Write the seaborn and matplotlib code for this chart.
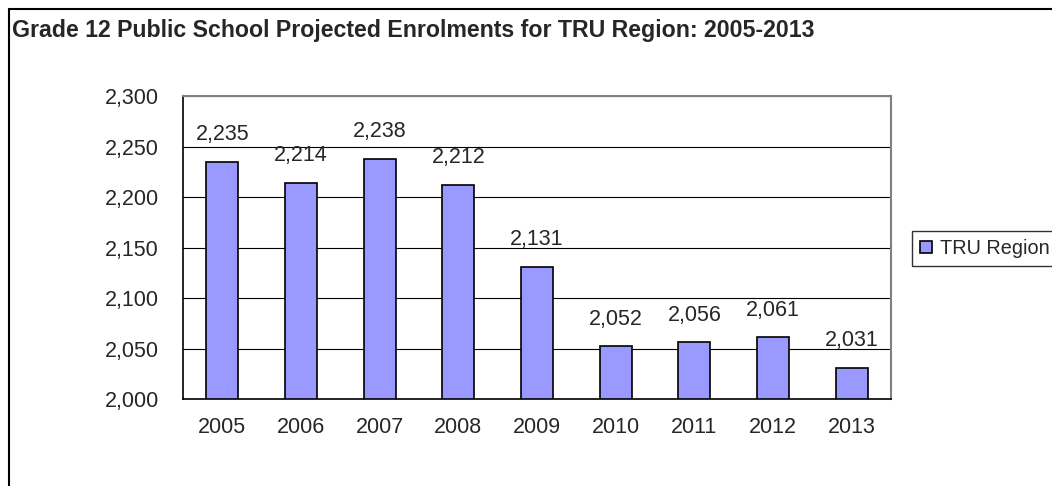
import matplotlib
matplotlib.use("Agg")
import matplotlib.pyplot as plt
import matplotlib.ticker as mticker
from matplotlib.lines import Line2D
import seaborn as sns
import pandas as pd

# data
years = ["2005", "2006", "2007", "2008", "2009", "2010", "2011", "2012", "2013"]
enrolments = [2235, 2214, 2238, 2212, 2131, 2052, 2056, 2061, 2031]
series_name = "TRU Region"

df = pd.DataFrame({"Year": years, "Enrolment": enrolments})

sns.set_style("white")
plt.rcParams["font.family"] = ["Liberation Sans", "DejaVu Sans"]

fig = plt.figure(figsize=(10.52, 4.86), dpi=100)
ax = fig.add_axes([183 / 1052, 1 - 399 / 486, (891 - 183) / 1052, (399 - 96) / 486])

sns.barplot(data=df, x="Year", y="Enrolment", color="#9999FF", saturation=1,
            edgecolor="black", linewidth=1.2, width=0.41, label=series_name, ax=ax)

ax.set_ylim(2000, 2300)
ax.set_yticks(range(2000, 2301, 50))
ax.yaxis.set_major_formatter(mticker.FuncFormatter(lambda v, p: f"{v:,.0f}"))
ax.yaxis.grid(True, color="black", linewidth=0.8)
ax.set_axisbelow(True)
ax.set_xlabel("")
ax.set_ylabel("")

# category separators as ticks
ax.set_xlim(-0.5, len(years) - 0.5)
ax.set_xticks([i - 0.5 for i in range(len(years) + 1)], minor=True)
ax.tick_params(axis="x", which="major", length=0, labelsize=15.5, pad=13)
ax.tick_params(axis="x", which="minor", length=4.5, width=1, color="black", direction="out")
ax.tick_params(axis="y", length=4.5, width=1, color="black", direction="out", labelsize=15.5, pad=13)

for side in ["left", "bottom"]:
    ax.spines[side].set_color("black")
    ax.spines[side].set_linewidth(1.2)
for side in ["top", "right"]:
    ax.spines[side].set_visible(True)
    ax.spines[side].set_color("#808080")
    ax.spines[side].set_linewidth(1.5)

ax.bar_label(ax.containers[0], labels=[f"{v:,}" for v in enrolments],
             padding=12, fontsize=15.5)

leg = ax.legend(loc="center left", bbox_to_anchor=(912 / 1052, 1 - 248.5 / 486),
                bbox_transform=fig.transFigure, frameon=True, fancybox=False,
                fontsize=14.3, handlelength=0.6, handleheight=0.6, handletextpad=0.4,
                borderpad=0.4, borderaxespad=0)
leg.get_frame().set_edgecolor("black")
leg.get_frame().set_linewidth(1)

fig.text(12 / 1052, 1 - 30 / 486,
         "Grade 12 Public School Projected Enrolments for TRU Region: 2005-2013",
         fontsize=16.7, fontweight="bold", va="center", ha="left")

# outer chart border (top and left visible)
fig.add_artist(Line2D([9 / 1052, 1], [1 - 9 / 486, 1 - 9 / 486], color="black", linewidth=1.5))
fig.add_artist(Line2D([9 / 1052, 9 / 1052], [0, 1 - 9 / 486], color="black", linewidth=1.5))

fig.savefig("out.png", dpi=100)
